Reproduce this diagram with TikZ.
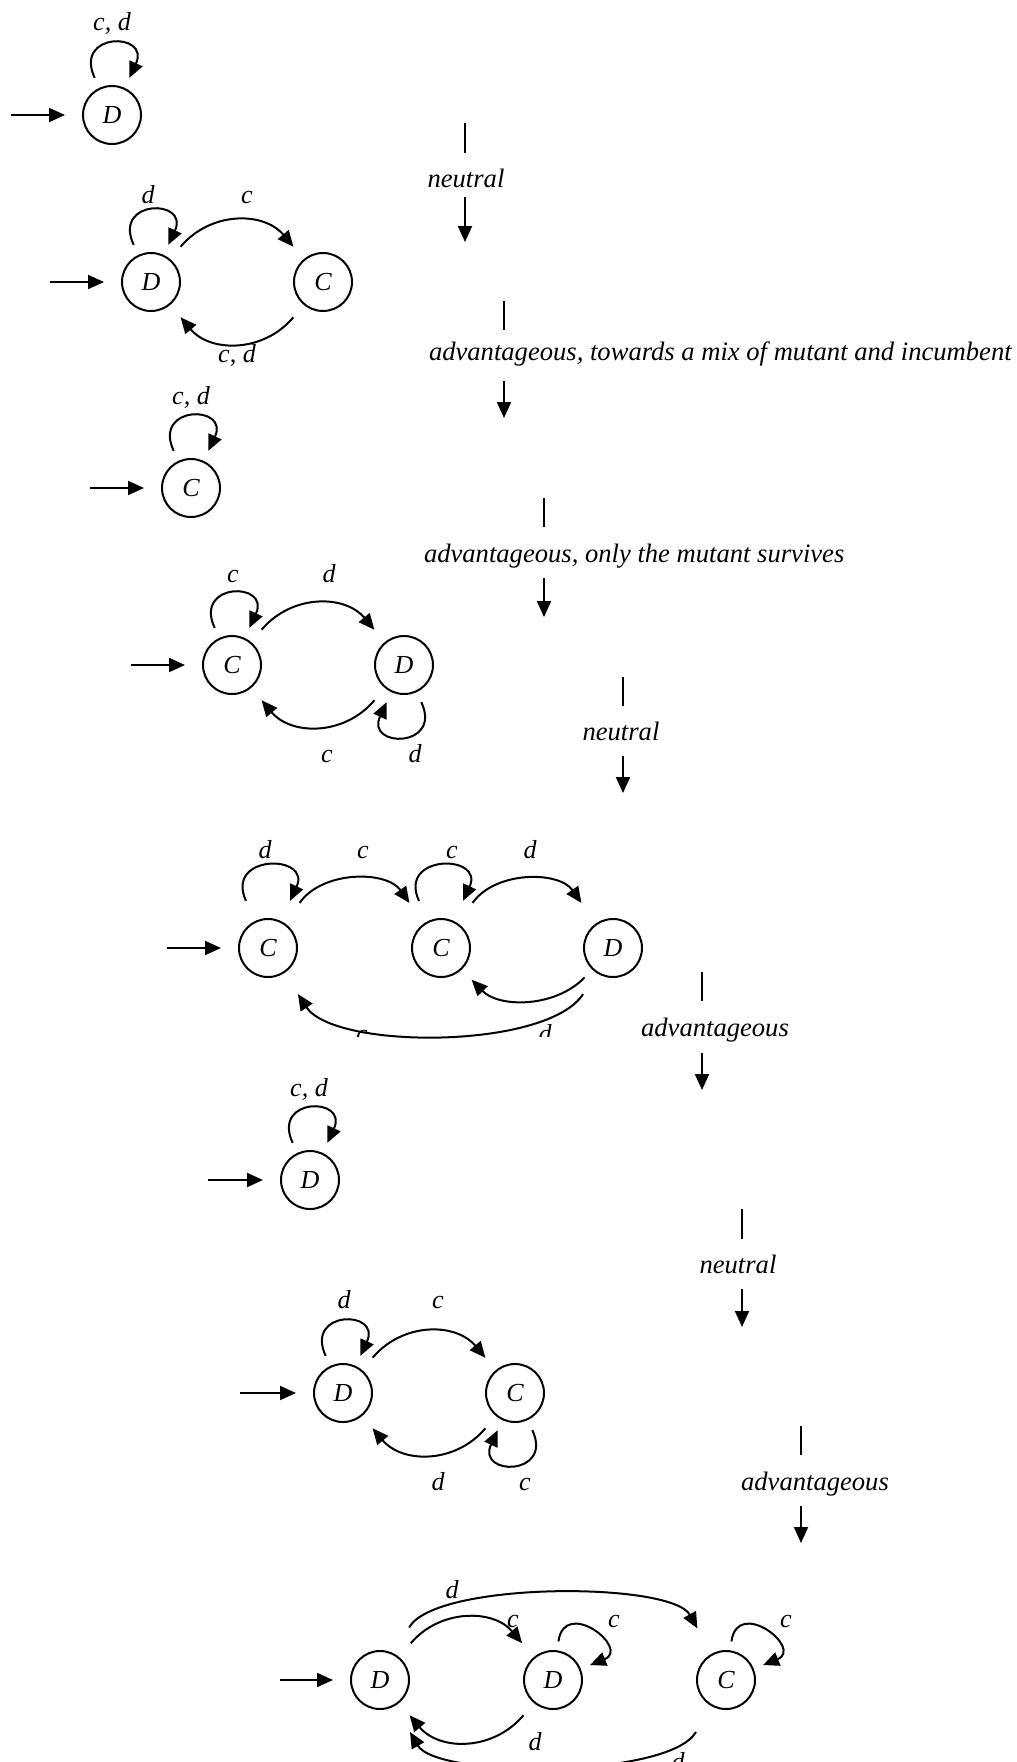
\documentclass[tikz,border=0pt]{standalone}
\usepackage{fontspec}
\setmainfont{Liberation Serif}
\usetikzlibrary{arrows.meta}

\begin{document}
\begin{tikzpicture}[x=0.5pt, y=-0.5pt, line width=1pt, >={Triangle[length=8pt,width=7pt]},
    stateStyle/.style={circle, draw, minimum size=29pt, inner sep=0pt, font=\fontsize{13}{15}\selectfont\itshape},
    labelStyle/.style={inner sep=0pt, anchor=base, font=\fontsize{13}{15}\selectfont\itshape},
    stepStyle/.style={inner sep=0pt, anchor=base, font=\fontsize{13.3}{15}\selectfont\itshape},
    startStyle/.style={->, shorten >=8.5pt},
    edgeStyle/.style={->, looseness=1.2, shorten <=8pt, shorten >=8pt},
    loopStyle/.style={->, distance=31pt, shorten <=5.5pt, shorten >=5.5pt}]
    \useasboundingbox (0,0) rectangle (1017,1762);

    % machine 1
    \node[stateStyle] (m1_D) at (112, 115) {D};
    \coordinate (m1_in) at (11, 115);
    \node[labelStyle] (m1_l0) at (112, 30) {c, d};
    \draw[startStyle] (m1_in) -- (m1_D);
    \draw[loopStyle] (m1_D) to[out=115, in=65] (m1_D);

    % machine 2
    \node[stateStyle] (m2_D) at (151, 282) {D};
    \node[stateStyle] (m2_C) at (323, 282) {C};
    \coordinate (m2_in) at (50, 282);
    \node[labelStyle] (m2_l0) at (148, 203) {d};
    \node[labelStyle] (m2_l1) at (247, 203) {c};
    \node[labelStyle] (m2_l2) at (237, 362) {c, d};
    \draw[startStyle] (m2_in) -- (m2_D);
    \draw[loopStyle] (m2_D) to[out=115, in=65] (m2_D);
    \draw[edgeStyle] (m2_D) to[out=50, in=130] (m2_C);
    \draw[edgeStyle] (m2_C) to[out=-130, in=-50] (m2_D);

    % machine 3
    \node[stateStyle] (m3_C) at (191, 488) {C};
    \coordinate (m3_in) at (90, 488);
    \node[labelStyle] (m3_l0) at (191, 404) {c, d};
    \draw[startStyle] (m3_in) -- (m3_C);
    \draw[loopStyle] (m3_C) to[out=115, in=65] (m3_C);

    % machine 4
    \node[stateStyle] (m4_C) at (232, 665) {C};
    \node[stateStyle] (m4_D) at (404, 665) {D};
    \coordinate (m4_in) at (131, 665);
    \node[labelStyle] (m4_l0) at (233, 582) {c};
    \node[labelStyle] (m4_l1) at (329, 582) {d};
    \node[labelStyle] (m4_l2) at (327, 762) {c};
    \node[labelStyle] (m4_l3) at (415, 762) {d};
    \draw[startStyle] (m4_in) -- (m4_C);
    \draw[loopStyle] (m4_C) to[out=115, in=65] (m4_C);
    \draw[edgeStyle] (m4_C) to[out=50, in=130] (m4_D);
    \draw[edgeStyle] (m4_D) to[out=-130, in=-50] (m4_C);
    \draw[loopStyle] (m4_D) to[out=-65, in=-115] (m4_D);

    % machine 5
    \node[stateStyle] (m5_C0) at (268, 948) {C};
    \node[stateStyle] (m5_C1) at (441, 948) {C};
    \node[stateStyle] (m5_D) at (613, 948) {D};
    \coordinate (m5_in) at (167, 948);
    \node[labelStyle] (m5_l0) at (265, 858) {d};
    \node[labelStyle] (m5_l1) at (363, 858) {c};
    \node[labelStyle] (m5_l2) at (452, 858) {c};
    \node[labelStyle] (m5_l3) at (530, 858) {d};
    \begin{scope}
        \clip (0, 0) rectangle (1017, 1036);
        \node[labelStyle] (m5_l4) at (362, 1042) {c};
        \node[labelStyle] (m5_l5) at (545, 1042) {d};
    \end{scope}
    \draw[startStyle] (m5_in) -- (m5_C0);
    \draw[loopStyle, distance=37pt, shorten <=11pt, shorten >=11pt] (m5_C0) to[out=115, in=65] (m5_C0);
    \draw[loopStyle, distance=37pt, shorten <=11pt, shorten >=11pt] (m5_C1) to[out=115, in=65] (m5_C1);
    \draw[edgeStyle, shorten <=12.5pt, shorten >=12.5pt] (m5_C0) to[out=55, in=125] (m5_C1);
    \draw[edgeStyle, shorten <=12.5pt, shorten >=12.5pt] (m5_C1) to[out=55, in=125] (m5_D);
    \draw[edgeStyle, looseness=1.05, shorten <=5.5pt, shorten >=7pt] (m5_D) to[out=-134, in=-46] (m5_C1);
    \draw[edgeStyle, looseness=0.75, shorten <=12.5pt, shorten >=12.5pt] (m5_D) to[out=-123, in=-57] (m5_C0);

    % machine 6
    \node[stateStyle] (m6_D) at (310, 1180) {D};
    \coordinate (m6_in) at (208, 1180);
    \node[labelStyle] (m6_l0) at (309, 1096) {c, d};
    \draw[startStyle] (m6_in) -- (m6_D);
    \draw[loopStyle] (m6_D) to[out=115, in=65] (m6_D);

    % machine 7
    \node[stateStyle] (m7_D) at (343, 1393) {D};
    \node[stateStyle] (m7_C) at (515, 1393) {C};
    \coordinate (m7_in) at (240, 1393);
    \node[labelStyle] (m7_l0) at (344, 1308) {d};
    \node[labelStyle] (m7_l1) at (438, 1308) {c};
    \node[labelStyle] (m7_l2) at (438, 1490) {d};
    \node[labelStyle] (m7_l3) at (525, 1490) {c};
    \draw[startStyle] (m7_in) -- (m7_D);
    \draw[loopStyle] (m7_D) to[out=115, in=65] (m7_D);
    \draw[edgeStyle] (m7_D) to[out=50, in=130] (m7_C);
    \draw[edgeStyle] (m7_C) to[out=-130, in=-50] (m7_D);
    \draw[loopStyle] (m7_C) to[out=-65, in=-115] (m7_C);

    % machine 8
    \node[stateStyle] (m8_D0) at (380, 1680) {D};
    \node[stateStyle] (m8_D1) at (553, 1680) {D};
    \node[stateStyle] (m8_C) at (726, 1680) {C};
    \coordinate (m8_in) at (280, 1680);
    \node[labelStyle] (m8_l0) at (452, 1598) {d};
    \node[labelStyle] (m8_l1) at (513, 1627) {c};
    \node[labelStyle] (m8_l2) at (614, 1627) {c};
    \node[labelStyle] (m8_l3) at (786, 1627) {c};
    \node[labelStyle] (m8_l4) at (535, 1750) {d};
    \node[labelStyle] (m8_l5) at (678, 1770) {d};
    \draw[startStyle] (m8_in) -- (m8_D0);
    \draw[edgeStyle, shorten <=9pt, shorten >=9pt] (m8_D0) to[out=50, in=130] (m8_D1);
    \draw[edgeStyle, looseness=0.67, shorten <=15pt, shorten >=14.5pt] (m8_D0) to[out=61, in=119] (m8_C);
    \draw[loopStyle, distance=27pt, shorten <=4.5pt, shorten >=5pt] (m8_D1) to[out=82, in=22] (m8_D1);
    \draw[loopStyle, distance=27pt, shorten <=4.5pt, shorten >=5pt] (m8_C) to[out=82, in=22] (m8_C);
    \draw[edgeStyle] (m8_D1) to[out=-130, in=-50] (m8_D0);
    \draw[edgeStyle, looseness=0.68, shorten <=15pt, shorten >=15pt] (m8_C) to[out=-120, in=-60] (m8_D0);

    % steps between machines
    \coordinate (s1_a) at (465, 123);
    \coordinate (s1_b) at (465, 153);
    \coordinate (s1_c) at (465, 197);
    \coordinate (s1_d) at (465, 242);
    \node[stepStyle] (s1_t) at (466, 187) {neutral};
    \draw (s1_a) -- (s1_b);
    \draw[->] (s1_c) -- (s1_d);

    \coordinate (s2_a) at (504, 301);
    \coordinate (s2_b) at (504, 330);
    \coordinate (s2_c) at (504, 381);
    \coordinate (s2_d) at (504, 418);
    \node[stepStyle, anchor=base west] (s2_t) at (428, 360) {advantageous, towards a mix of mutant and incumbent};
    \draw (s2_a) -- (s2_b);
    \draw[->] (s2_c) -- (s2_d);

    \coordinate (s3_a) at (544, 498);
    \coordinate (s3_b) at (544, 527);
    \coordinate (s3_c) at (544, 578);
    \coordinate (s3_d) at (544, 617);
    \node[stepStyle, anchor=base west] (s3_t) at (423, 562) {advantageous, only the mutant survives};
    \draw (s3_a) -- (s3_b);
    \draw[->] (s3_c) -- (s3_d);

    \coordinate (s4_a) at (623, 677);
    \coordinate (s4_b) at (623, 706);
    \coordinate (s4_c) at (623, 756);
    \coordinate (s4_d) at (623, 793);
    \node[stepStyle] (s4_t) at (621, 740) {neutral};
    \draw (s4_a) -- (s4_b);
    \draw[->] (s4_c) -- (s4_d);

    \coordinate (s5_a) at (702, 972);
    \coordinate (s5_b) at (702, 1001);
    \coordinate (s5_c) at (702, 1053);
    \coordinate (s5_d) at (702, 1090);
    \node[stepStyle] (s5_t) at (715, 1036) {advantageous};
    \draw (s5_a) -- (s5_b);
    \draw[->] (s5_c) -- (s5_d);

    \coordinate (s6_a) at (742, 1209);
    \coordinate (s6_b) at (742, 1239);
    \coordinate (s6_c) at (742, 1289);
    \coordinate (s6_d) at (742, 1327);
    \node[stepStyle] (s6_t) at (738, 1273) {neutral};
    \draw (s6_a) -- (s6_b);
    \draw[->] (s6_c) -- (s6_d);

    \coordinate (s7_a) at (801, 1426);
    \coordinate (s7_b) at (801, 1455);
    \coordinate (s7_c) at (801, 1506);
    \coordinate (s7_d) at (801, 1543);
    \node[stepStyle] (s7_t) at (815, 1490) {advantageous};
    \draw (s7_a) -- (s7_b);
    \draw[->] (s7_c) -- (s7_d);
\end{tikzpicture}
\end{document}
